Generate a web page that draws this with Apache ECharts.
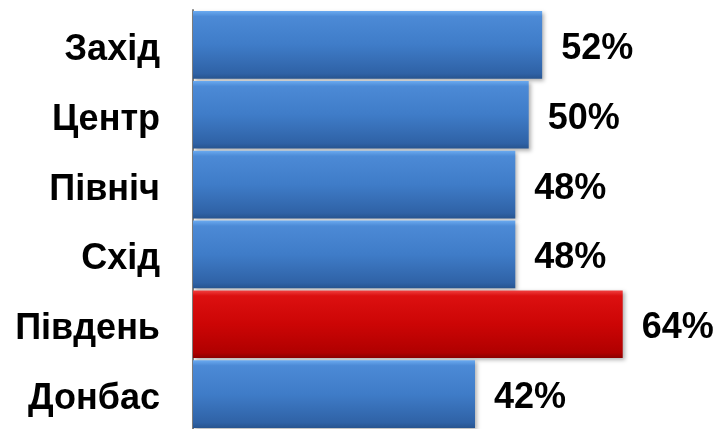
<!DOCTYPE html>
<html><head><meta charset="utf-8">
<script src="https://cdn.jsdelivr.net/npm/echarts@6/dist/echarts.min.js"></script>
<style>html,body{margin:0;padding:0;background:#fff}#c{width:717px;height:429px}</style>
</head><body><div id="c"></div>
<script>
const categories = ['Захід', 'Центр', 'Північ', 'Схід', 'Південь', 'Донбас'];
const values = [52, 50, 48, 48, 64, 42];
const highlight = ['Південь'];

const blue = new echarts.graphic.LinearGradient(0, 0, 0, 1, [
  {offset: 0, color: '#6aaaf0'}, {offset: 0.08, color: '#4c8ad6'},
  {offset: 0.5, color: '#3f7cc8'}, {offset: 0.92, color: '#2f62a6'}, {offset: 1, color: '#27548f'}]);
const red = new echarts.graphic.LinearGradient(0, 0, 0, 1, [
  {offset: 0, color: '#f04040'}, {offset: 0.08, color: '#dc1010'},
  {offset: 0.5, color: '#cc0505'}, {offset: 0.92, color: '#b00000'}, {offset: 1, color: '#8a0000'}]);

const chart = echarts.init(document.getElementById('c'));
chart.setOption({
  animation: false,
  grid: {left: 193, right: 54, top: 10, bottom: -7, containLabel: false},
  xAxis: {type: 'value', min: 0, max: 70, show: false},
  yAxis: {
    type: 'category', data: categories, inverse: true,
    axisLine: {show: true, lineStyle: {color: '#808080', width: 2}},
    axisTick: {show: false},
    axisLabel: {margin: 33, formatter: '{a|{value}}',
      rich: {a: {color: '#000', fontSize: 36, fontWeight: 'bold', fontFamily: 'Liberation Sans, Arial',
        padding: [10, 0, 0, 0]}}}
  },
  series: [{
    type: 'bar', barCategoryGap: '3%',
    data: values.map((v, i) => ({value: v, itemStyle: {color: highlight.includes(categories[i]) ? red : blue}})),
    itemStyle: {shadowColor: 'rgba(0,0,0,0.3)', shadowBlur: 4, shadowOffsetX: 2, shadowOffsetY: 2},
    label: {show: true, position: 'right', distance: 19, formatter: '{c}%', color: '#000',
      fontSize: 36, fontWeight: 'bold', fontFamily: 'Liberation Sans, Arial', offset: [0, 4]}
  }]
});
</script></body></html>
